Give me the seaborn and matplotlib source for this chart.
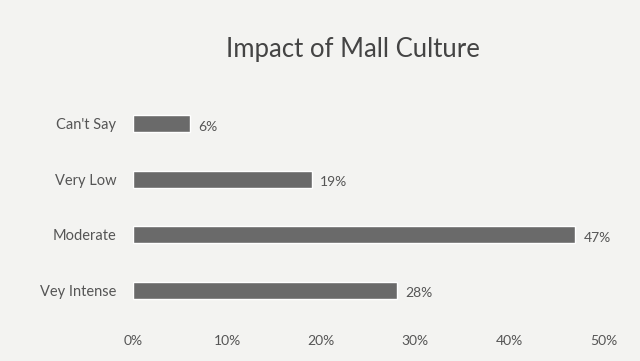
import matplotlib
matplotlib.use("Agg")
import matplotlib.pyplot as plt
import seaborn as sns
import pandas as pd

categories = ["Can't Say", "Very Low", "Moderate", "Vey Intense"]
values = [6, 19, 47, 28]
value_labels = ["6%", "19%", "47%", "28%"]
tick_values = [0, 10, 20, 30, 40, 50]
tick_labels = ["0%", "10%", "20%", "30%", "40%", "50%"]
title = "Impact of Mall Culture"

sns.set_theme(style="white")
plt.rcParams['font.family'] = ['Lato', 'DejaVu Sans']

df = pd.DataFrame({"category": categories, "value": values})

fig = plt.figure(figsize=(6.4, 3.61), dpi=100)
fig.patch.set_facecolor("#f3f3f1")
ax = fig.add_axes([0.208, 0.119, 0.735, 0.615])
ax.set_facecolor("#f3f3f1")

sns.barplot(data=df, x="value", y="category", order=categories,
            color="#6a6a6a", width=0.3, saturation=1, ax=ax)

for i, (v, lab) in enumerate(zip(values, value_labels)):
    ax.text(v + 0.9, i + 0.05, lab, va="center", ha="left",
            fontsize=10, color="#555555")

ax.set_xlim(0, 50)
ax.set_ylim(3.5, -0.5)
ax.set_xticks(tick_values)
ax.set_xticklabels(tick_labels, fontsize=10, color="#555555")
ax.tick_params(axis="x", length=0, pad=12)
ax.tick_params(axis="y", length=0, pad=12, labelsize=10.5, labelcolor="#555555")
ax.set_xlabel("")
ax.set_ylabel("")
for s in ax.spines.values():
    s.set_visible(False)

fig.text(0.551, 0.862, title, ha="center", va="center", fontsize=18.5, color="#444444")

fig.savefig("out.png", dpi=100, facecolor=fig.get_facecolor())
